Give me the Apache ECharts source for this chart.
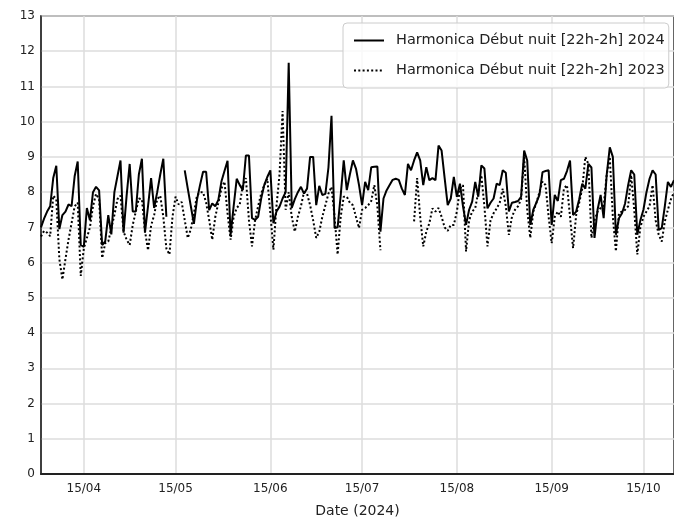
<!DOCTYPE html>
<html><head><meta charset="utf-8">
<script src="https://cdn.jsdelivr.net/npm/echarts@6/dist/echarts.min.js"></script>
<style>html,body{margin:0;padding:0;background:#fff}#c{width:674px;height:523px}</style>
</head><body><div id="c"></div>
<script>
const startDate = '2024-04-01';
const tickLabels = ['15/04', '15/05', '15/06', '15/07', '15/08', '15/09', '15/10'];
const seriesNames = ['Harmonica Début nuit [22h-2h] 2024', 'Harmonica Début nuit [22h-2h] 2023'];
const xAxisTitle = 'Date (2024)';

const values2024 = [
  7.0, 7.25, 7.45, 7.6, 8.4, 8.75, 6.95, 7.35, 7.45, 7.65,
  7.6, 8.45, 8.87, 6.5, 6.45, 7.55, 7.2, 8.0, 8.15, 8.05,
  6.5, 6.6, 7.35, 6.8, 8.0, 8.45, 8.9, 6.85, 7.9, 8.8,
  7.45, 7.45, 8.5, 8.95, 6.85, 7.6, 8.4, 7.55, 8.0, 8.5,
  8.95, 7.3, null, null, null, null, null, 8.62, 8.1, 7.6,
  7.1, 7.78, 8.2, 8.58, 8.58, 7.49, 7.68, 7.6, 7.78, 8.3,
  8.6, 8.89, 6.79, 7.6, 8.38, 8.2, 8.06, 9.04, 9.04, 7.26,
  7.21, 7.3, 7.82, 8.2, 8.43, 8.62, 7.12, 7.45, 7.59, 7.82,
  8.0, 11.67, 7.55, 7.8, 8.0, 8.15, 7.96, 8.1, 9.0, 9.0,
  7.63, 8.18, 7.92, 7.95, 8.7, 10.17, 6.98, 7.0, 7.9, 8.9,
  8.06, 8.5, 8.9, 8.67, 8.2, 7.63, 8.29, 8.06, 8.71, 8.72,
  8.73, 6.88, 7.82, 8.05, 8.2, 8.35, 8.38, 8.35, 8.1, 7.92,
  8.8, 8.62, 8.9, 9.13, 8.9, 8.2, 8.71, 8.34, 8.4, 8.34,
  9.32, 9.18, 8.4, 7.63, 7.82, 8.43, 7.87, 8.24, 7.6, 7.07,
  7.5, 7.73, 8.29, 7.87, 8.76, 8.67, 7.54, 7.7, 7.82, 8.24,
  8.2, 8.62, 8.55, 7.45, 7.7, 7.72, 7.75, 7.87, 9.18, 8.9,
  7.07, 7.5, 7.7, 7.92, 8.57, 8.6, 8.62, 7.07, 7.92, 7.75,
  8.34, 8.38, 8.6, 8.9, 7.35, 7.45, 7.8, 8.24, 8.1, 8.8,
  8.7, 6.7, 7.5, 7.92, 7.26, 8.5, 9.27, 9.0, 6.79, 7.26,
  7.4, 7.68, 8.2, 8.62, 8.5, 6.79, 7.2, 7.5, 8.0, 8.38,
  8.62, 8.5, 6.93, 6.98, 7.6, 8.29, 8.15, 8.34
];

const values2023 = [
  6.74, 6.9, 6.85, 6.75, 7.9, 7.8, 6.1, 5.52, 6.1, 6.65,
  7.12, 7.6, 7.7, 5.62, 6.4, 6.7, 7.0, 7.6, 7.95, 7.8,
  6.13, 6.55, 6.6, 6.98, 7.35, 7.8, 7.9, 6.88, 6.65, 6.5,
  7.07, 7.45, 7.82, 7.8, 6.9, 6.35, 7.05, 7.35, 7.8, 7.9,
  7.3, 6.4, 6.23, 7.3, 7.87, 7.65, 7.72, 7.21, 6.7, 6.95,
  7.4, 7.9, 8.0, 8.0, 7.7, 7.21, 6.65, 7.3, 7.7, 8.1,
  8.3, 7.4, 6.65, 7.3, 7.55, 7.65, 8.2, 8.4, 7.2, 6.46,
  7.2, 7.6, 7.96, 8.2, 8.38, 7.4, 6.37, 7.6, 8.5, 10.3,
  7.5, 8.0, 7.3, 6.88, 7.3, 7.6, 8.0, 7.96, 7.63, 7.2,
  6.7, 6.88, 7.3, 7.63, 7.96, 8.15, 7.3, 6.23, 7.3, 7.87,
  7.87, 7.7, 7.63, 7.3, 6.98, 7.5, 7.55, 7.63, 7.75, 8.2,
  7.6, 6.35, null, null, null, null, null, null, null, null,
  null, null, 7.17, 8.4, 7.3, 6.46, 6.88, 7.12, 7.54, 7.45,
  7.55, 7.3, 7.0, 6.9, 7.07, 7.07, 7.45, 8.1, 8.2, 6.32,
  7.2, 7.45, 7.55, 8.0, 8.48, 7.6, 6.46, 7.2, 7.4, 7.54,
  7.7, 8.1, 7.6, 6.79, 7.3, 7.5, 7.6, 7.8, 9.0, 7.5,
  6.7, 7.45, 7.7, 8.0, 8.3, 8.2, 7.3, 6.55, 7.3, 7.45,
  7.3, 8.1, 8.2, 7.3, 6.41, 7.35, 7.7, 8.1, 9.0, 8.8,
  6.7, 7.2, 7.45, 7.55, 7.6, 8.5, 9.0, 7.3, 6.32, 7.4,
  7.45, 7.5, 7.6, 8.48, 7.5, 6.23, 7.0, 7.3, 7.45, 7.6,
  8.2, 7.2, 6.79, 6.6, 7.17, 7.5, 7.8, 8.0
];

// one category per day, starting at startDate
const dates = [];
(function () {
  const d0 = new Date(startDate + 'T00:00:00Z').getTime();
  for (let i = 0; i < values2024.length; i++) {
    dates.push(new Date(d0 + i * 86400000).toISOString().slice(0, 10));
  }
})();
function dayMonth(v) { return v.slice(8, 10) + '/' + v.slice(5, 7); }
function isTick(index, value) { return tickLabels.indexOf(dayMonth(value)) >= 0; }

const FONT = 'DejaVu Sans';
const chart = echarts.init(document.getElementById('c'), null, { renderer: 'canvas' });
chart.setOption({
  animation: false,
  backgroundColor: '#ffffff',
  grid: { left: 41, top: 16, right: -2, bottom: 45, show: true, borderColor: '#333333', borderWidth: 1.5, backgroundColor: 'transparent' },
  legend: {
    data: seriesNames,
    orient: 'vertical',
    left: 343, top: 23,
    itemWidth: 30, itemHeight: 14, itemGap: 15,
    padding: [10, 4, 10, 10],
    borderColor: '#cccccc', borderWidth: 1, borderRadius: 4,
    backgroundColor: 'rgba(255,255,255,0.8)',
    itemStyle: { color: 'rgba(0,0,0,0)', borderWidth: 0, opacity: 0 },
    textStyle: { fontFamily: FONT, fontSize: 14.5, color: '#222222', padding: [0, 0, 0, 7] }
  },
  xAxis: {
    type: 'category',
    data: dates,
    boundaryGap: false,
    name: xAxisTitle,
    nameLocation: 'middle',
    nameGap: 30,
    nameTextStyle: { fontFamily: FONT, fontSize: 14, color: '#222222' },
    axisLine: { show: true, lineStyle: { color: '#222222', width: 2 } },
    axisTick: { show: false },
    axisLabel: { interval: isTick, formatter: dayMonth, fontFamily: FONT, fontSize: 12, color: '#222222', margin: 9 },
    splitLine: { show: true, interval: isTick, lineStyle: { color: '#dcdcdc', width: 1.5 } }
  },
  yAxis: {
    type: 'value',
    min: 0, max: 13, interval: 1,
    axisLine: { show: true, lineStyle: { color: '#333333', width: 1.5 } },
    axisTick: { show: false },
    axisLabel: { fontFamily: FONT, fontSize: 12, color: '#222222', margin: 6 },
    splitLine: { show: true, lineStyle: { color: '#dcdcdc', width: 1.5 } }
  },
  series: [
    {
      name: seriesNames[0], type: 'line', data: values2024,
      symbol: 'none', showSymbol: false, connectNulls: false,
      lineStyle: { color: '#000000', width: 2, type: 'solid' },
      itemStyle: { color: '#000000' }
    },
    {
      name: seriesNames[1], type: 'line', data: values2023,
      symbol: 'none', showSymbol: false, connectNulls: false,
      lineStyle: { color: '#000000', width: 2, type: [2, 2.3] },
      itemStyle: { color: '#000000' }
    }
  ]
});
</script>
</body></html>
